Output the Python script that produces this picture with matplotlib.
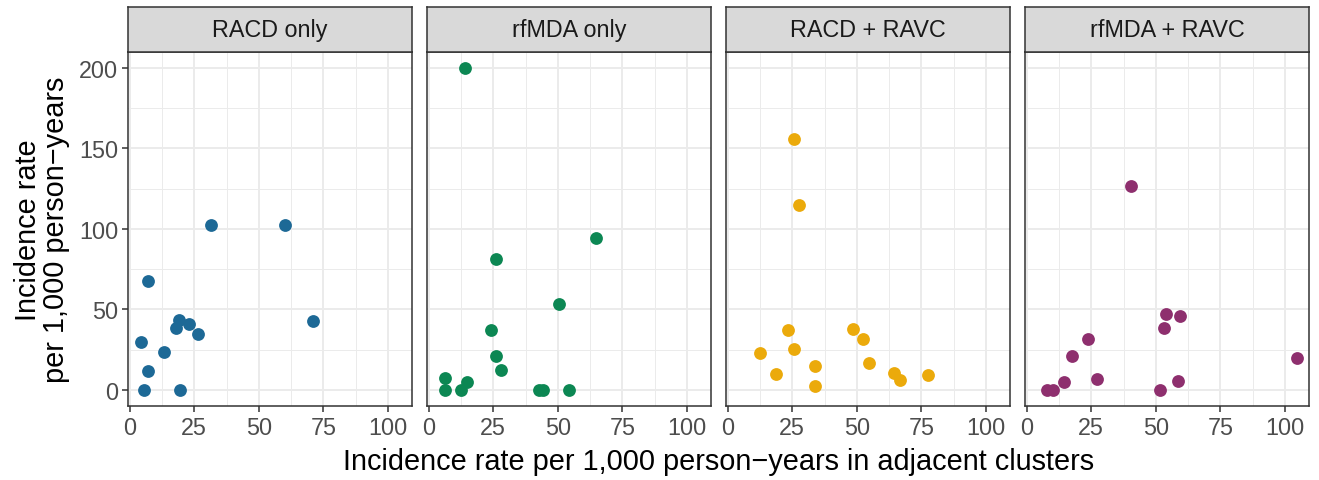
import matplotlib.pyplot as plt
from matplotlib.ticker import MultipleLocator

plt.rcParams["font.family"] = ["Liberation Sans", "DejaVu Sans"]

panels = ["RACD only", "rfMDA only", "RACD + RAVC", "rfMDA + RAVC"]
colors = ["#1D6996", "#0C8753", "#EBAA0B", "#8E2F6E"]

racd_x = [31.5, 60.0, 7.1, 19.2, 22.9, 17.9, 70.9, 26.3, 4.3, 13.1, 7.1, 5.6, 19.6]
racd_y = [102.5, 102.5, 67.5, 43.7, 41.0, 38.7, 42.6, 34.4, 29.6, 23.4, 12.0, 0, 0]

rfmda_x = [14.1, 64.9, 26.0, 50.5, 24.2, 26.0, 28.0, 6.4, 15.0, 6.2, 12.5, 42.7, 44.3, 54.2]
rfmda_y = [200, 94.2, 81.0, 53.4, 37.1, 21.1, 12.2, 7.2, 5.2, 0, 0, 0, 0, 0]

racd_ravc_x = [25.7, 27.7, 23.4, 48.6, 52.4, 12.4, 25.7, 54.6, 33.8, 18.8, 64.5, 66.7, 77.5, 33.9]
racd_ravc_y = [155.9, 115.1, 36.9, 38.1, 31.7, 23.2, 25.5, 17.0, 14.9, 9.7, 10.6, 6.2, 9.5, 2.3]

rfmda_ravc_x = [40.5, 53.8, 59.4, 53.2, 23.9, 17.6, 104.9, 27.4, 14.5, 58.6, 7.9, 10.1, 51.6]
rfmda_ravc_y = [126.9, 47.4, 45.8, 38.7, 31.7, 21.3, 19.9, 6.8, 4.8, 5.6, 0, 0, 0]

series = [(racd_x, racd_y), (rfmda_x, rfmda_y),
          (racd_ravc_x, racd_ravc_y), (rfmda_ravc_x, rfmda_ravc_y)]

W, H = 1319, 481
fig = plt.figure(figsize=(W / 100, H / 100), dpi=100)

left0, pw, gap = 128, 284, 15
ptop, pbot, stop = 52.7, 407, 8.3
dark = "#333333"

for i, (name, (xs, ys)) in enumerate(zip(panels, series)):
    x0 = left0 + i * (pw + gap)
    ax = fig.add_axes([x0 / W, 1 - pbot / H, pw / W, (pbot - ptop) / H])
    ax.set_facecolor("white")
    ax.scatter(xs, ys, s=85, color=colors[i], linewidths=0, zorder=3)
    ax.set_xlim(-0.7, 109.4)
    ax.set_ylim(-10, 210)
    ax.xaxis.set_major_locator(MultipleLocator(25))
    ax.xaxis.set_minor_locator(MultipleLocator(12.5))
    ax.yaxis.set_major_locator(MultipleLocator(50))
    ax.yaxis.set_minor_locator(MultipleLocator(25))
    ax.grid(which="major", color="#EBEBEB", linewidth=1.4, zorder=0)
    ax.grid(which="minor", color="#EBEBEB", linewidth=0.7, zorder=0)
    ax.set_axisbelow(True)
    for sp in ax.spines.values():
        sp.set_color(dark)
        sp.set_linewidth(1.1)
    ax.tick_params(which="major", length=4, width=1.1, color=dark,
                   labelsize=16.8, labelcolor="#4D4D4D", pad=3)
    ax.tick_params(which="minor", length=0)
    if i > 0:
        ax.tick_params(axis="y", which="both", left=False, labelleft=False)

    sax = fig.add_axes([x0 / W, 1 - ptop / H, pw / W, (ptop - stop) / H])
    sax.set_facecolor("#D9D9D9")
    sax.set_xticks([])
    sax.set_yticks([])
    for sp in sax.spines.values():
        sp.set_color(dark)
        sp.set_linewidth(1.1)
    sax.text(0.5, 0.5, name, transform=sax.transAxes, ha="center", va="center",
             fontsize=16.8, color="#1A1A1A")

fig.text((left0 + (4 * pw + 3 * gap) / 2) / W, 1 - 462 / H,
         "Incidence rate per 1,000 person\u2212years in adjacent clusters",
         ha="center", va="center", fontsize=20.8)
fig.text(42 / W, 1 - ((ptop + pbot) / 2) / H,
         "Incidence rate\nper 1,000 person\u2212years",
         ha="center", va="center", rotation=90, fontsize=20.8, linespacing=1.0)

fig.savefig("out.png", dpi=100)
